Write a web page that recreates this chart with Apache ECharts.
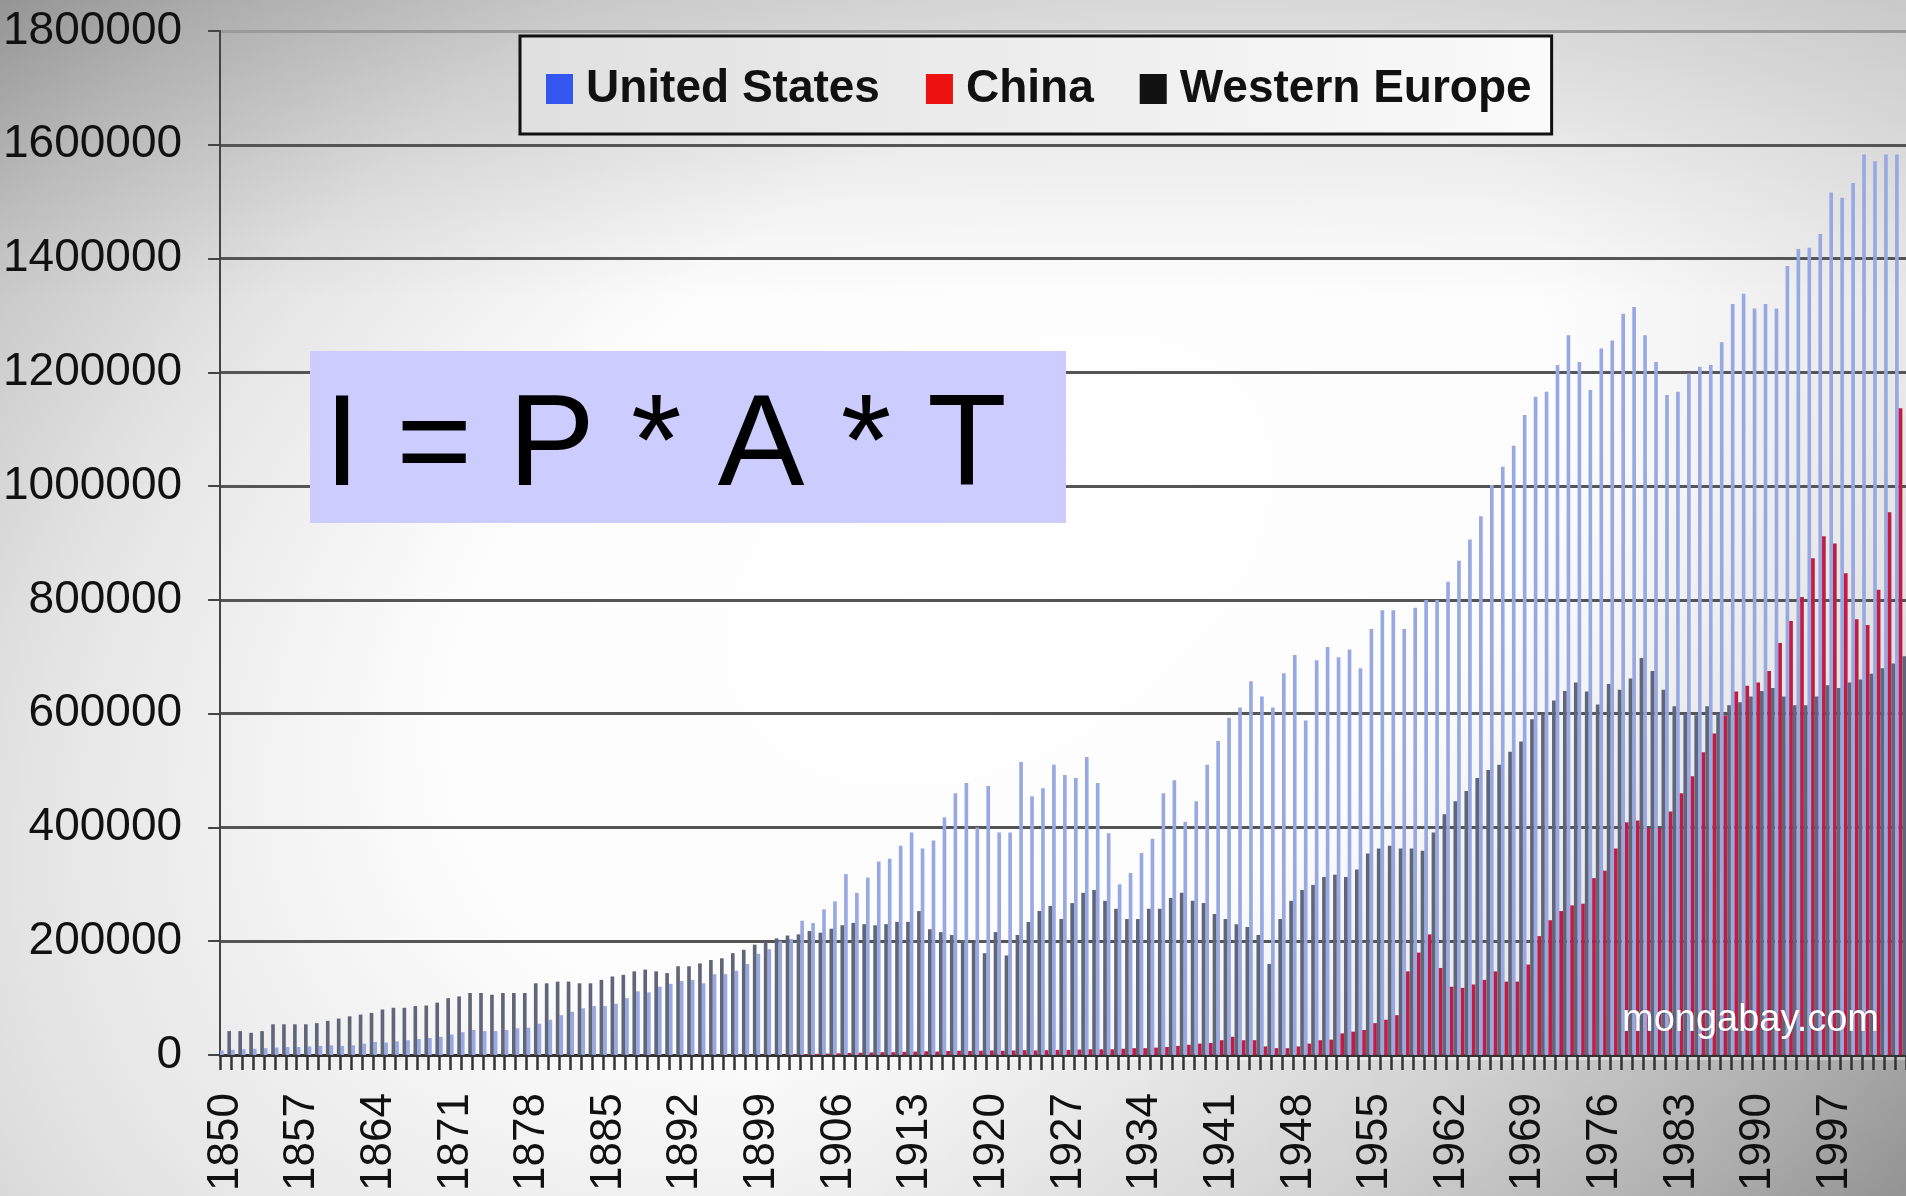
<!DOCTYPE html>
<html>
<head>
<meta charset="utf-8">
<title>I = P * A * T</title>
<script src="https://cdn.jsdelivr.net/npm/echarts@6/dist/echarts.min.js"></script>
<style>
  html, body { margin: 0; padding: 0; width: 1906px; height: 1196px; overflow: hidden; }
  #chart { width: 1906px; height: 1196px; }
</style>
</head>
<body>
<div id="chart"></div>
<script>
// Years 1850..2003 (category axis)
var firstYear = 1850, lastYear = 2003;
var years = [];
for (var y = firstYear; y <= lastYear; y++) years.push(String(y));

var seriesNames = ['United States', 'China', 'Western Europe'];
var legendColors = ['#3355f0', '#ee1111', '#111111'];

var unitedStates = [
  8000, 9000, 10000, 11000, 12000, 13000, 14000, 14000, 15000, 16000,
  17000, 16000, 17000, 20000, 23000, 22000, 24000, 26000, 28000, 30000,
  32000, 36000, 40000, 44000, 42000, 42000, 44000, 47000, 48000, 55000,
  62000, 70000, 76000, 82000, 86000, 86000, 90000, 100000, 112000, 110000,
  120000, 125000, 130000, 132000, 126000, 142000, 142000, 148000, 160000, 178000,
  186000, 200000, 204000, 236000, 232000, 256000, 270000, 318000, 285000, 312000,
  340000, 345000, 368000, 391000, 363000, 377000, 418000, 460000, 478000, 400000,
  473000, 391000, 391000, 515000, 455000, 469000, 510000, 492000, 487000, 524000,
  478000, 390000, 300000, 320000, 355000, 380000, 460000, 483000, 410000, 446000,
  510000, 552000, 593000, 611000, 657000, 630000, 611000, 671000, 703000, 588000,
  694000, 717000, 699000, 713000, 680000, 749000, 782000, 782000, 749000, 786000,
  800000, 800000, 832000, 869000, 906000, 947000, 1002000, 1034000, 1071000, 1125000,
  1157000, 1166000, 1213000, 1265000, 1218000, 1169000, 1242000, 1256000, 1303000, 1315000,
  1265000, 1218000, 1160000, 1166000, 1198000, 1210000, 1213000, 1253000, 1320000, 1338000,
  1312000, 1320000, 1312000, 1387000, 1417000, 1419000, 1443000, 1516000, 1507000, 1533000,
  1583000, 1571000, 1583000, 1583000
];

var china = [
  0, 0, 0, 0, 0, 0, 0, 0, 0, 0,
  0, 0, 0, 0, 0, 0, 0, 0, 0, 0,
  0, 0, 0, 0, 0, 0, 0, 0, 0, 0,
  0, 0, 0, 0, 0, 0, 0, 0, 0, 0,
  0, 0, 0, 0, 0, 0, 0, 0, 0, 0,
  0, 0, 1000, 1500, 2000, 2500, 3000, 3500, 4000, 4500,
  5000, 5000, 5500, 6000, 6500, 6000, 7000, 7500, 7000, 7500,
  8000, 7500, 8000, 8500, 8000, 8500, 9000, 9000, 9500, 10000,
  10000, 10000, 11000, 12000, 12000, 13000, 14000, 16000, 18000, 20000,
  21000, 26000, 32000, 26000, 26000, 15000, 12000, 12000, 15000, 20000,
  26000, 27000, 38000, 41000, 44000, 56000, 62000, 70000, 147000, 180000,
  212000, 153000, 120000, 118000, 124000, 132000, 147000, 129000, 129000, 159000,
  209000, 237000, 253000, 263000, 266000, 311000, 324000, 363000, 409000, 412000,
  399000, 399000, 428000, 460000, 490000, 532000, 565000, 597000, 639000, 649000,
  655000, 675000, 724000, 763000, 805000, 873000, 912000, 899000, 847000, 766000,
  756000, 818000, 954000, 1137000
];

var westernEurope = [
  42000, 42000, 39000, 42000, 54000, 54000, 54000, 54000, 56000, 60000,
  64000, 68000, 71000, 74000, 80000, 83000, 83000, 86000, 87000, 92000,
  100000, 103000, 109000, 109000, 106000, 109000, 109000, 109000, 126000, 126000,
  129000, 129000, 126000, 126000, 132000, 138000, 141000, 147000, 150000, 147000,
  144000, 156000, 156000, 161000, 167000, 170000, 179000, 185000, 194000, 199000,
  205000, 210000, 212000, 218000, 215000, 222000, 228000, 232000, 230000, 228000,
  230000, 234000, 234000, 253000, 221000, 216000, 211000, 202000, 198000, 179000,
  216000, 175000, 211000, 234000, 253000, 262000, 239000, 267000, 285000, 290000,
  271000, 257000, 239000, 239000, 257000, 257000, 276000, 285000, 271000, 267000,
  248000, 239000, 230000, 225000, 211000, 160000, 239000, 271000, 290000, 299000,
  313000, 317000, 313000, 326000, 354000, 363000, 368000, 363000, 363000, 359000,
  391000, 423000, 446000, 464000, 487000, 501000, 510000, 533000, 551000, 590000,
  600000, 623000, 640000, 655000, 639000, 616000, 652000, 642000, 662000, 698000,
  675000, 642000, 613000, 600000, 597000, 613000, 600000, 615000, 620000, 630000,
  640000, 645000, 630000, 615000, 615000, 630000, 650000, 645000, 655000, 660000,
  670000, 680000, 688000, 701000
];

var yTicks = { min: 0, max: 1800000, interval: 200000 };

var chart = echarts.init(document.getElementById('chart'), null, { renderer: 'canvas' });

var FONT = '"Liberation Sans", Arial, Helvetica, sans-serif';
var W = 1906, H = 1196;

var option = {
  animation: false,
  backgroundColor: '#9a9a9a',
  grid: { left: 220, right: 0, top: 31, bottom: 141, containLabel: false },
  legend: {
    left: 520, top: 36,
    orient: 'horizontal',
    itemWidth: 27, itemHeight: 30, itemGap: 46,
    padding: [30, 20, 22, 26],
    borderColor: '#111', borderWidth: 3,
    backgroundColor: {
      type: 'linear', x: 0, y: 0, x2: 1, y2: 0,
      colorStops: [{ offset: 0, color: '#e0e0e0' }, { offset: 1, color: '#fafafa' }]
    },
    icon: 'rect',
    textStyle: { fontFamily: FONT, fontSize: 46, fontWeight: 'bold', color: '#111', padding: [0, 0, 0, 8] },
    data: seriesNames.map(function (n, i) {
      return { name: n, itemStyle: { color: legendColors[i] } };
    })
  },
  xAxis: {
    type: 'category',
    data: years,
    boundaryGap: true,
    axisLine: { show: true, lineStyle: { color: '#333', width: 3 } },
    axisTick: { show: true, interval: 0, length: 15, lineStyle: { color: '#333', width: 2.5 } },
    axisLabel: {
      interval: 6, rotate: 90, margin: 38,
      fontFamily: FONT, fontSize: 44, color: '#111'
    },
    splitLine: { show: false }
  },
  yAxis: {
    type: 'value',
    min: yTicks.min, max: yTicks.max, interval: yTicks.interval,
    axisLine: { show: true, lineStyle: { color: '#444', width: 2 } },
    axisTick: { show: true, length: 12, lineStyle: { color: '#444', width: 2 } },
    axisLabel: {
      margin: 38, fontFamily: FONT, fontSize: 46, color: '#111',
      formatter: function (v) { return String(v); }
    },
    splitLine: {
      show: true,
      lineStyle: {
        color: ['#555', '#555', '#555', '#555', '#555', '#555', '#555', '#555', '#555', '#9a9a9a'],
        width: 3
      }
    }
  },
  series: [
    {
      name: seriesNames[0], type: 'bar', data: unitedStates,
      barGap: '0%', barCategoryGap: '0%',
      itemStyle: { color: '#98a8e2' }
    },
    {
      name: seriesNames[1], type: 'bar', data: china,
      barGap: '0%', barCategoryGap: '0%',
      itemStyle: { color: '#c01c44' }
    },
    {
      name: seriesNames[2], type: 'bar', data: westernEurope,
      barGap: '0%', barCategoryGap: '0%',
      itemStyle: { color: '#60667a' }
    }
  ],
  graphic: [
    {
      // elliptical light spot, major axis tilted from lower-left to upper-right
      type: 'rect', z: -10, silent: true,
      x: 1000, y: 560, scaleX: 3.56, scaleY: 2.3, rotation: 0.5585,
      shape: { x: -500, y: -500, width: 1000, height: 1000 },
      style: {
        fill: {
          type: 'radial', x: 0.5, y: 0.5, r: 0.5,
          colorStops: [
            { offset: 0, color: '#ffffff' },
            { offset: 0.35, color: '#fcfcfc' },
            { offset: 0.6, color: '#e4e4e4' },
            { offset: 0.8, color: '#c4c4c4' },
            { offset: 1, color: '#9a9a9a' }
          ]
        }
      }
    },
    {
      type: 'rect', z: -9, silent: true,
      shape: { x: 0, y: 0, width: W, height: 300 },
      style: {
        fill: {
          type: 'linear', x: 0, y: 0, x2: 0, y2: 1,
          colorStops: [
            { offset: 0, color: 'rgba(0,0,0,0.12)' },
            { offset: 1, color: 'rgba(0,0,0,0)' }
          ]
        }
      }
    },
    {
      type: 'rect', z: -9, silent: true,
      shape: { x: 0, y: 1060, width: W, height: 136 },
      style: {
        fill: {
          type: 'linear', x: 0, y: 0, x2: 1, y2: 0,
          colorStops: [
            { offset: 0, color: 'rgba(0,0,0,0)' },
            { offset: 0.4, color: 'rgba(0,0,0,0)' },
            { offset: 1, color: 'rgba(0,0,0,0.14)' }
          ]
        }
      }
    },
    {
      type: 'rect', z: 100,
      shape: { x: 310, y: 351, width: 756, height: 172 },
      style: { fill: '#ccccff' }
    },
    {
      type: 'text', z: 101,
      x: 324, y: 449,
      style: {
        text: 'I = P * A * T',
        font: '130px ' + FONT,
        fill: '#000',
        textAlign: 'left', textVerticalAlign: 'middle'
      }
    },
    {
      type: 'text', z: 101,
      x: 1622, y: 1040,
      style: {
        text: 'mongabay.com',
        font: '38px ' + FONT,
        fill: '#ffffff',
        textAlign: 'left', textVerticalAlign: 'bottom',
        textShadowColor: 'rgba(0,0,0,0.25)', textShadowBlur: 2
      }
    }
  ]
};

chart.setOption(option);
</script>
</body>
</html>
